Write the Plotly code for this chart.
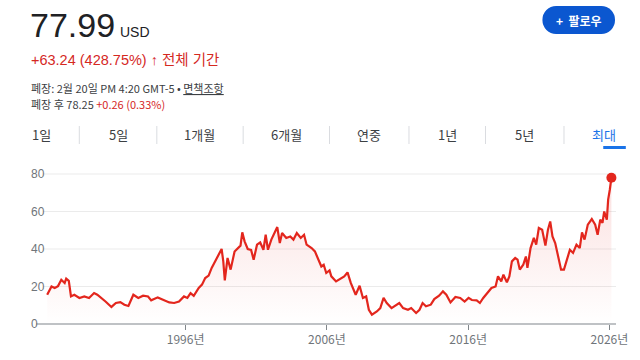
import plotly.graph_objects as go

# ---------------- data ----------------
dates = [
    "1986-03-15", "1986-07-05", "1986-09-25", "1986-12-20", "1987-03-15", "1987-06-10",
    "1987-07-20", "1987-09-25", "1987-11-20", "1988-02-15", "1988-06-25", "1988-10-30",
    "1989-03-01", "1989-07-10", "1989-10-01", "1989-12-28", "1990-05-01", "1990-10-01",
    "1991-01-25", "1991-05-20", "1991-09-01", "1991-12-15", "1992-04-20", "1992-08-25",
    "1992-12-28", "1993-05-05", "1993-07-25", "1994-01-10", "1994-05-20", "1994-11-05",
    "1995-03-10", "1995-07-15", "1995-11-20", "1996-02-15", "1996-05-08", "1996-07-30",
    "1996-12-05", "1997-02-28", "1997-05-22", "1997-08-18", "1997-11-05", "1998-01-30",
    "1998-04-28", "1998-07-20", "1998-09-01", "1998-10-10", "1998-12-20", "1999-03-10",
    "1999-06-20", "1999-09-15", "1999-11-20", "2000-01-05", "2000-03-05", "2000-05-25",
    "2000-08-20", "2000-10-25", "2001-01-20", "2001-04-12", "2001-07-05", "2001-09-01",
    "2001-10-30", "2002-01-25", "2002-04-01", "2002-06-28", "2002-09-01", "2002-10-30",
    "2003-02-15", "2003-05-30", "2003-08-20", "2003-11-15", "2004-02-25", "2004-05-20",
    "2004-07-25", "2004-12-01", "2005-02-25", "2005-05-20", "2005-08-10", "2005-10-10",
    "2005-12-15", "2006-03-10", "2006-04-25", "2006-08-25", "2007-01-01", "2007-03-25",
    "2007-06-18", "2007-09-10", "2008-01-15", "2008-04-25", "2008-07-20", "2008-10-12",
    "2008-12-20", "2009-03-10", "2009-07-15", "2009-10-12", "2010-01-05", "2010-03-28",
    "2010-07-30", "2010-10-25", "2011-02-15", "2011-05-25", "2011-09-28", "2011-12-20",
    "2012-04-25", "2012-07-22", "2012-10-10", "2013-01-05", "2013-05-10", "2013-08-08",
    "2013-12-10", "2014-03-20", "2014-06-15", "2014-10-01", "2015-02-05", "2015-06-10",
    "2015-10-01", "2016-01-12", "2016-04-05", "2016-08-08", "2016-10-30", "2017-01-25",
    "2017-05-08", "2017-08-25", "2017-12-10", "2018-02-10", "2018-05-05", "2018-07-01",
    "2018-09-28", "2018-12-01", "2019-02-05", "2019-05-01", "2019-07-01", "2019-08-28",
    "2019-11-25", "2020-02-01", "2020-03-12", "2020-06-01", "2020-08-25", "2020-10-25",
    "2021-01-01", "2021-03-28", "2021-06-20", "2021-08-25", "2021-10-22", "2021-12-20",
    "2022-02-28", "2022-05-22", "2022-07-30", "2022-10-12", "2022-12-20", "2023-03-15",
    "2023-06-05", "2023-09-01", "2023-11-25", "2024-01-22", "2024-03-28", "2024-06-20",
    "2024-10-01", "2024-12-28", "2025-03-01", "2025-05-08", "2025-07-05", "2025-08-18",
    "2025-10-25", "2025-11-28", "2026-01-10", "2026-02-20",
]
prices = [
    15.6, 20.0, 19.2, 20.2, 23.6, 21.9,
    24.2, 23.0, 14.7, 15.6, 13.9, 14.7,
    13.9, 16.5, 15.6, 13.9, 12.0, 9.1,
    11.2, 11.7, 10.3, 9.6, 15.6, 13.9,
    15.1, 14.7, 12.6, 14.2, 13.0, 11.5,
    11.2, 12.0, 14.7, 13.9, 16.5, 15.0,
    19.2, 21.0, 24.5, 25.8, 29.9, 33.4,
    36.4, 40.0, 33.4, 23.3, 35.2, 29.0,
    38.7, 40.5, 41.8, 48.9, 44.1, 40.0,
    39.5, 34.3, 42.3, 43.5, 39.6, 47.6,
    39.6, 45.0, 47.6, 51.7, 43.2, 48.5,
    45.9, 46.7, 45.0, 48.5, 45.9, 47.6,
    42.3, 40.5, 38.7, 34.3, 30.7, 31.6,
    27.2, 28.6, 25.4, 22.7, 24.5, 25.4,
    27.5, 21.9, 15.6, 20.4, 13.9, 14.7,
    7.6, 5.0, 6.7, 8.5, 13.9, 11.2,
    8.5, 9.5, 11.2, 8.5, 7.6, 8.5,
    5.9, 7.6, 11.2, 9.5, 10.3, 13.3,
    15.1, 17.4, 15.6, 11.5, 14.4, 13.9,
    12.0, 13.9, 12.8, 12.6, 11.2, 13.9,
    16.5, 19.2, 20.0, 25.4, 22.7, 26.3,
    22.2, 25.4, 33.4, 35.2, 34.3, 29.0,
    31.6, 36.0, 29.9, 40.5, 45.9, 42.3,
    51.2, 50.3, 41.8, 50.3, 54.7, 46.7,
    43.2, 35.2, 29.0, 29.0, 34.3, 39.6,
    37.9, 42.3, 40.5, 48.9, 45.0, 53.0,
    56.0, 53.0, 47.6, 55.6, 54.0, 60.0,
    55.6, 66.3, 71.6, 77.99,
]
y_ticks = [0, 20, 40, 60, 80]
x_tick_dates = ["1996-01-01", "2006-01-01", "2016-01-01", "2026-01-01"]
x_tick_text = ["1996년", "2006년", "2016년", "2026년"]
tabs = ["1일", "5일", "1개월", "6개월", "연중", "1년", "5년", "최대"]

# ---------------- layout helpers ----------------
W, H = 640, 360
L, R, T, B = 43, 13, 170, 36
PW, PH = W - L - R, H - T - B


def px(x):
    return (x - L) / PW


def py(y):
    return (H - B - y) / PH


RED = "#e3261d"
TEXT_RED = "#d5281f"
GRAY = "#70757a"
DARK = "#202124"
BLUE = "#0b57d0"
FONT = "Liberation Sans, Arial, Noto Sans CJK KR, sans-serif"
KFONT = "Noto Sans CJK KR, Liberation Sans, sans-serif"

fig = go.Figure()

fig.add_trace(go.Scatter(
    x=dates, y=prices, mode="lines",
    line=dict(color=RED, width=2.2),
    fill="tozeroy",
    fillgradient=dict(type="vertical", start=0, stop=80,
                      colorscale=[[0, "rgba(229,57,53,0)"], [1, "rgba(229,57,53,0.16)"]]),
    hoverinfo="skip", showlegend=False,
))
fig.add_trace(go.Scatter(
    x=[dates[-1]], y=[prices[-1]], mode="markers",
    marker=dict(color=RED, size=10), cliponaxis=False,
    hoverinfo="skip", showlegend=False,
))

annotations = []
for v in y_ticks:
    annotations.append(dict(x=px(29), xref="paper", y=v, yref="y", text=str(v),
                            showarrow=False, xanchor="left", yanchor="middle",
                            font=dict(family=FONT, size=12, color=GRAY)))

shapes = []
# gridlines
for v in y_ticks[1:]:
    shapes.append(dict(type="line", xref="paper", yref="y", x0=0, x1=1, y0=v, y1=v,
                       line=dict(color="#ebebeb", width=1), layer="below"))
# base axis line extends a bit left
shapes.append(dict(type="line", xref="paper", yref="paper", x0=px(36), x1=1, y0=0, y1=0,
                   line=dict(color="#80868b", width=1.2)))

# ---------------- header ----------------
def txt(x, y, s, size, color, family=FONT, anchor="left"):
    annotations.append(dict(x=px(x), y=py(y), xref="paper", yref="paper", text=s,
                            showarrow=False, xanchor=anchor, yanchor="middle",
                            font=dict(family=family, size=size, color=color)))


txt(28, 25, "77.99", 34, DARK)
txt(119, 32, "USD", 14, DARK)
txt(29, 60, "+63.24 (428.75%) <b>↑</b> 전체 기간", 14.5, TEXT_RED, FONT)
txt(29, 88, "폐장: 2월 20일 PM 4:20 GMT-5 • <u>면책조항</u>", 11, "#3c4043", KFONT)
txt(29, 104, "폐장 후 78.25 <span style='color:%s'>+0.26 (0.33%%)</span>" % TEXT_RED,
    11, "#3c4043", KFONT)

# follow button
shapes.append(dict(type="rect", xref="paper", yref="paper", x0=px(566), x1=px(612),
                   y0=py(34), y1=py(6), fillcolor=BLUE, line=dict(width=0)))
for cx in (566, 612):
    shapes.append(dict(type="circle", xref="paper", yref="paper", x0=px(cx - 14), x1=px(cx + 14),
                       y0=py(34), y1=py(6), fillcolor=BLUE, line=dict(width=0)))
txt(589, 20, "<b>+  팔로우</b>", 12, "white", KFONT, "center")

# tabs
tab_x = [41, 120, 203, 291, 375, 455, 534, 615]
sep_x = [80, 159, 247, 335, 416, 494, 574]
for s, x in zip(tabs, tab_x):
    col = "#1a73e8" if s == "최대" else "#3c4043"
    txt(x, 134, s, 13, col, KFONT, "center")
for x in sep_x:
    shapes.append(dict(type="line", xref="paper", yref="paper", x0=px(x), x1=px(x),
                       y0=py(126), y1=py(144), line=dict(color="#dadce0", width=1)))
shapes.append(dict(type="rect", xref="paper", yref="paper", x0=px(614), x1=px(637),
                   y0=py(149), y1=py(146), fillcolor="#1a73e8", line=dict(width=0)))

fig.update_layout(
    width=W, height=H,
    margin=dict(l=L, r=R, t=T, b=B, pad=0),
    paper_bgcolor="white", plot_bgcolor="white",
    annotations=annotations, shapes=shapes,
    xaxis=dict(type="date", range=["1985-11-27", "2026-06-19"],
               tickvals=x_tick_dates, ticktext=x_tick_text,
               ticks="outside", ticklen=5, tickcolor="#80868b", tickwidth=1,
               showgrid=False, zeroline=False, showline=False,
               tickfont=dict(family=KFONT, size=12, color=GRAY), fixedrange=True),
    yaxis=dict(range=[0, 82.13], showticklabels=False, showgrid=False, zeroline=False,
               showline=False, fixedrange=True),
)

fig.write_html(
    "out.html",
    config={"displayModeBar": False},
    post_script="document.body.style.margin='0';document.body.style.padding='0';"
                "document.body.style.overflow='hidden';"
                "document.documentElement.style.overflow='hidden';",
)
